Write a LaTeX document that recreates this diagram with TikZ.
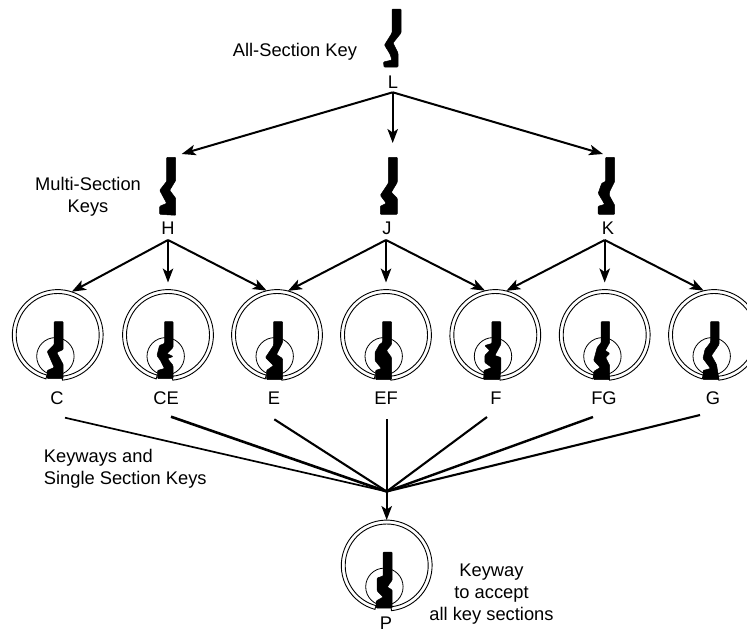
\documentclass[tikz,border=0pt]{standalone}
\usepackage{fontspec}
\setmainfont{Liberation Sans}
\usetikzlibrary{arrows.meta}
\def\kL{(0,0)--(9,0)--(9,24)--(1,34)--(6,44)--(6,58)--(-8,58)--(-8.5,53)--(0,51)--(-2,45)--(-7.5,36)--(0,24)--cycle}
\def\kH{(0,0)--(9,0)--(9,23)--(3,33)--(9,41)--(9,58)--(-7,57)--(-7,49)--(0,46)--(-7,33)--(0,24)--cycle}
\def\kJ{(0,0)--(9,0)--(9,25)--(3,35)--(9,41)--(9,57)--(-8,57)--(-8,49)--(-2,46)--(-8,38)--(0,26)--cycle}
\def\kK{(0,0)--(9,0)--(9,24)--(4,34)--(3.5,38)--(9,48)--(9,57)--(-7.5,57)--(-7.5,49)--(-1,47)--(-7.5,36)--(-4,26)--(0,24)--cycle}
\def\kC{(0,0)--(9,0)--(9,28)--(2.5,31)--(9,43)--(9,57)--(-7,57)--(-7,49)--(0,46)--(-7,30)--(0,23)--cycle}
\def\kCE{(0,0)--(8.5,0)--(8.5,26)--(2.5,32)--(8.5,35)--(3,37)--(8.5,44)--(8.5,57)--(-7,57)--(-7,49)--(0,47)--(-4,39)--(-7.5,34)--(-5,24)--(0,22)--cycle}
\def\kE{(0,0)--(9,0)--(9,21)--(3,33)--(9,37)--(9,58)--(-7,58)--(-7,49)--(0,44)--(-8,36)--(0,24)--cycle}
\def\kEF{(0,0)--(9,0)--(9,23)--(4,29)--(9,36)--(9,58)--(-7,58)--(-7,49)--(-1,47)--(-7.5,39)--(-7.5,31)--(-3,23)--(0,21)--cycle}
\def\kF{(0,0)--(9,0)--(9,23)--(3,34)--(9,36)--(9,48)--(8,58)--(-8,58)--(-8,49)--(0,46)--(-7,41)--(-7,34)--(-2,29)--(-7,24)--(0,22)--cycle}
\def\kFG{(0,0)--(8.5,0)--(8.5,21)--(4,29)--(8.5,32)--(4.5,36)--(8.5,44)--(8.5,58)--(-7.5,58)--(-7.5,50)--(-1,46)--(-7.5,39)--(-4,26)--(0,21)--cycle}
\def\kG{(0,0)--(8.5,0)--(8.5,23)--(1,34)--(6,43)--(8.5,58)--(-7.5,58)--(-7.5,49)--(0,47)--(-7.5,37)--(-5.5,28)--(0,21)--cycle}
\def\kP{(0,0)--(9,0)--(9,28)--(4,35)--(9,38)--(9,56)--(-7,56)--(-7,49)--(0,45)--(-6,39)--(-6,26)--(0,24)--cycle}
\tikzset{
  keyshape/.style={fill=black,draw=black,line width=0.5pt,rounded corners=0.8pt},
  rim/.style={draw=black,line width=0.9pt},
  lbl/.style={inner sep=0pt,anchor=base,font=\fontsize{18.3}{22}\selectfont,align=center},
  lftlbl/.style={inner sep=0pt,anchor=base west,font=\fontsize{18.3}{22}\selectfont},
  arr/.style={line width=2pt,-{Stealth[length=14pt,width=10.5pt,inset=3.5pt]}},
  bar/.style={line width=2.1pt},
  cyl/.style={circle,inner sep=0pt,minimum size=91pt,outer sep=0pt},
}
% node name, centre x, centre y, key macro
\newcommand\drawcyl[4]{%
  \node[cyl] (#1) at (#2,#3) {};
  \begin{scope}[shift={(#2,#3)}]
    \draw[rim] (105:45.4) arc[start angle=105,end angle=444,radius=45.4]
       -- (84:41.5) arc[start angle=444,end angle=105,radius=41.5] -- cycle;
    \draw[line width=0.8pt] (-2.3,21.3) circle[radius=18.7];
    \begin{scope}[shift={(-3.5,-13.5)}]
      \fill[keyshape] #4;
    \end{scope}
  \end{scope}}
\newcommand\drawkey[3]{%
  \begin{scope}[shift={(#1,#2)}]\fill[keyshape] #3;\end{scope}}
\begin{document}
\begin{tikzpicture}[x=1pt,y=-1pt]
\useasboundingbox (0,0) rectangle (747,633);
\clip (0,0) rectangle (747,633);
\drawkey{392}{9}{\kL}
\drawkey{166.7}{157.3}{\kH}
\drawkey{388.3}{157.3}{\kJ}
\drawkey{605.7}{157.3}{\kK}
\drawcyl{cC}{57.7}{335}{\kC}
\drawcyl{cCE}{168}{335}{\kCE}
\drawcyl{cE}{277}{335}{\kE}
\drawcyl{cEF}{386}{335}{\kEF}
\drawcyl{cF}{495.3}{335}{\kF}
\drawcyl{cFG}{604.7}{335}{\kFG}
\drawcyl{cG}{714}{335}{\kG}
\drawcyl{cP}{386.7}{565.5}{\kP}
\node[lbl] (L) at (393,88) {L};
\node[lbl] (H) at (168,234.5) {H};
\node[lbl] (J) at (387,234.5) {J};
\node[lbl] (K) at (608,234.5) {K};
\node[lbl] (lC) at (57,404) {C};
\node[lbl] (lCE) at (166,404) {CE};
\node[lbl] (lE) at (274,404) {E};
\node[lbl] (lEF) at (386,404) {EF};
\node[lbl] (lF) at (496,404) {F};
\node[lbl] (lFG) at (604,404) {FG};
\node[lbl] (lG) at (713,404) {G};
\node[lbl] (lP) at (386,629.5) {P};
\node[lftlbl] (tAll) at (232.7,56.7) {All-Section Key};
\node[lbl] (tMulti) at (88,212) {Multi-Section\\Keys};
\node[lftlbl] (tKw) at (43.7,462) {Keyways and};
\node[lftlbl] (tSingle) at (43.7,484) {Single Section Keys};
\node[lbl] (tP) at (491.5,620) {Keyway\\to accept\\all key sections};
% hubs and free ends
\coordinate (hL) at (392.7,92.3);
\coordinate (hH) at (168,240);
\coordinate (hJ) at (386,240);
\coordinate (hK) at (604.7,240);
\coordinate (hP) at (386.7,491.5);
\coordinate (tH) at (181.7,154);
\coordinate (tJ) at (392.7,143);
\coordinate (tK) at (603,154);
\draw[arr] (hL) -- (tH);
\draw[arr] (hL) -- (tJ);
\draw[arr] (hL) -- (tK);
\draw[arr] (hH) -- (cC.72);
\draw[arr,shorten >=7pt] (hH) -- (cCE.90);
\draw[arr] (hH) -- (cE.103);
\draw[arr] (hJ) -- (cE.76);
\draw[arr,shorten >=7pt] (hJ) -- (cEF.90);
\draw[arr] (hJ) -- (cF.103);
\draw[arr] (hK) -- (cF.76);
\draw[arr,shorten >=7pt] (hK) -- (cFG.90);
\draw[arr] (hK) -- (cG.103);
\draw[arr] (hP) -- (cP.90);
\coordinate (sC) at (65,417.7);
\coordinate (sCE) at (171,416.7);
\coordinate (sE) at (274.3,419.3);
\coordinate (sEF) at (386.7,419.3);
\coordinate (sF) at (487,417);
\coordinate (sFG) at (593,417);
\coordinate (sG) at (700,415);
\draw[bar,line width=1.7pt] (sC) -- (hP);
\draw[bar,line width=2.6pt] (sCE) -- (hP);
\draw[bar] (sE) -- (hP);
\draw[bar] (sEF) -- (hP);
\draw[bar] (sF) -- (hP);
\draw[bar,line width=2.4pt] (sFG) -- (hP);
\draw[bar] (sG) -- (hP);
\end{tikzpicture}
\end{document}
